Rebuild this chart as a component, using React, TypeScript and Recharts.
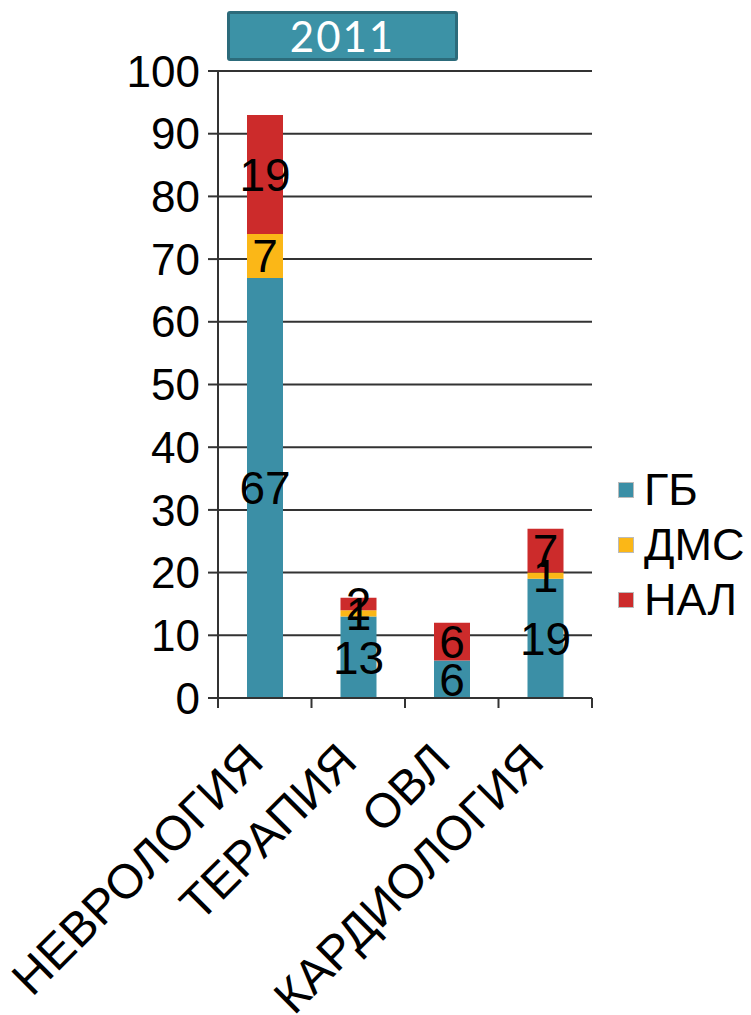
import React from 'react';
import { BarChart, Bar, XAxis, YAxis, CartesianGrid, Legend, LabelList } from 'recharts';

const categories = ['НЕВРОЛОГИЯ', 'ТЕРАПИЯ', 'ОВЛ', 'КАРДИОЛОГИЯ'];
const gb = [67, 13, 6, 19];
const dms = [7, 1, 0, 1];
const nal = [19, 2, 6, 7];
const yTicks = [0, 10, 20, 30, 40, 50, 60, 70, 80, 90, 100];

const series = [
  { key: 'gb', name: 'ГБ', color: '#3b8fa6' },
  { key: 'dms', name: 'ДМС', color: '#fbb717' },
  { key: 'nal', name: 'НАЛ', color: '#cc2b2b' },
];

const data = categories.map((name, i) => ({ name, gb: gb[i], dms: dms[i], nal: nal[i] }));

const FONT = '"Liberation Sans", Arial, sans-serif';
const BAND = 374 / categories.length;

function CategoryTick(props: any) {
  const { x, y, payload, index } = props;
  const last = index === categories.length - 1;
  const tx = x + 1;
  const ty = y + 56;
  return (
    <g>
      <line x1={x - BAND / 2} y1={y - 10} x2={x - BAND / 2} y2={y} stroke="#333" strokeWidth={2} />
      {last && <line x1={x + BAND / 2} y1={y - 10} x2={x + BAND / 2} y2={y} stroke="#333" strokeWidth={2} />}
      <text
        x={tx}
        y={ty}
        textAnchor="end"
        transform={`rotate(-45, ${tx}, ${ty})`}
        fontSize={48}
        fontFamily={FONT}
        fill="#000"
      >
        {payload.value}
      </text>
    </g>
  );
}

function LegendContent(props: any) {
  const { payload } = props;
  return (
    <div style={{ fontFamily: FONT }}>
      {payload.map((p: any) => (
        <div key={p.value} style={{ height: 55, display: 'flex', alignItems: 'center' }}>
          <span
            style={{
              width: 16,
              height: 16,
              background: p.color,
              border: '1px solid #bbb',
              boxSizing: 'border-box',
              marginLeft: 6,
              marginRight: 10,
            }}
          />
          <span style={{ fontSize: 45, color: '#000', lineHeight: '55px' }}>{p.value}</span>
        </div>
      ))}
    </div>
  );
}

const hideZero = (v: any) => (v === 0 ? '' : v);

export default function App() {
  return (
    <div style={{ position: 'absolute', left: 0, top: 0, width: 751, height: 1015, background: '#fff' }}>
      <div
        style={{
          position: 'absolute',
          left: 227,
          top: 11,
          width: 231,
          height: 50,
          boxSizing: 'border-box',
          background: '#3c92a6',
          border: '3px solid #2c6b7b',
          borderRadius: 3,
          color: '#fff',
          fontFamily: 'Lato, "Open Sans", sans-serif',
          fontSize: 42,
          lineHeight: '44px',
          textAlign: 'center',
          letterSpacing: 2,
          zIndex: 2,
        }}
      >
        2011
      </div>
      <BarChart
        width={751}
        height={1015}
        data={data}
        margin={{ top: 71, right: 159, left: 0, bottom: 0 }}
        barSize={36}
      >
        <CartesianGrid vertical={false} stroke="#333" strokeWidth={2} />
        <XAxis
          dataKey="name"
          height={317}
          tickSize={10}
          tickMargin={0}
          tickLine={false}
          axisLine={{ stroke: '#333', strokeWidth: 2 }}
          tick={<CategoryTick />}
          interval={0}
        />
        <YAxis
          width={218}
          domain={[0, 100]}
          ticks={yTicks}
          tickSize={10}
          tickMargin={8}
          axisLine={{ stroke: '#333', strokeWidth: 2 }}
          tickLine={{ stroke: '#333', strokeWidth: 2 }}
          tick={{ fontSize: 44, fontFamily: FONT, fill: '#000' }}
        />
        <Legend
          layout="vertical"
          align="center"
          verticalAlign="middle"
          content={<LegendContent />}
          wrapperStyle={{ left: 612, top: 462, width: 139 }}
        />
        {series.map((s) => (
          <Bar key={s.key} dataKey={s.key} name={s.name} stackId="a" fill={s.color} isAnimationActive={false}>
            <LabelList
              dataKey={s.key}
              position="center"
              formatter={hideZero}
              fill="#000"
              fontSize={46}
              fontFamily={FONT}
            />
          </Bar>
        ))}
      </BarChart>
    </div>
  );
}
